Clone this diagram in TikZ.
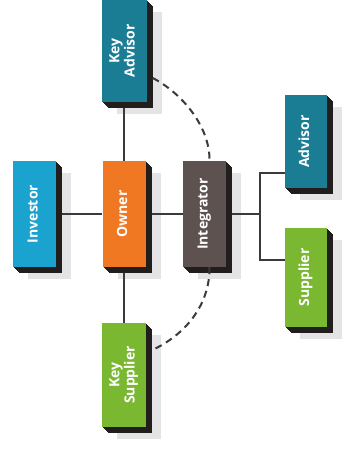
\documentclass[tikz,border=0pt]{standalone}
\usepackage{fontspec}
\newfontfamily\labelfont{Open Sans}
\usetikzlibrary{shadows}

\definecolor{advteal}{RGB}{27,125,148}
\definecolor{invcyan}{RGB}{26,163,207}
\definecolor{ownorange}{RGB}{240,120,35}
\definecolor{intbrown}{RGB}{94,82,80}
\definecolor{supgreen}{RGB}{122,184,50}
\definecolor{sidedark}{RGB}{35,30,30}
\definecolor{shadegray}{RGB}{228,228,231}
\definecolor{linegray}{RGB}{58,58,58}

\newcommand{\vlabel}[1]{\rotatebox{90}{\begin{tabular}{@{}c@{}}#1\end{tabular}}}

\tikzset{
  block/.style={rectangle, inner sep=0pt, text=white,
    font=\labelfont\bfseries\fontsize{14}{15}\selectfont,
    general shadow={shadow xshift=15pt, shadow yshift=-12pt, fill=shadegray},
    general shadow={shadow xshift=6pt, shadow yshift=-6pt, fill=sidedark},
    general shadow={shadow xshift=5pt, shadow yshift=-5pt, fill=sidedark},
    general shadow={shadow xshift=4pt, shadow yshift=-4pt, fill=sidedark},
    general shadow={shadow xshift=3pt, shadow yshift=-3pt, fill=sidedark},
    general shadow={shadow xshift=2pt, shadow yshift=-2pt, fill=sidedark},
    general shadow={shadow xshift=1pt, shadow yshift=-1pt, fill=sidedark}},
  link/.style={draw=linegray, line width=1.8pt},
  tie/.style={draw=linegray, line width=2pt, dash pattern=on 7pt off 5pt}
}

\begin{document}
\begin{tikzpicture}[x=1pt, y=-1pt]
  \useasboundingbox (0,0) rectangle (347,450);

  % partners round the owner
  \node[block, fill=advteal, minimum width=45pt, minimum height=102pt] (ka) at (124,51) {\vlabel{Key\\Advisor}};
  \node[block, fill=invcyan, minimum width=43pt, minimum height=106pt] (inv) at (34.5,214) {\vlabel{Investor}};
  \node[block, fill=ownorange, minimum width=43pt, minimum height=106pt] (own) at (124,214) {\vlabel{Owner}};
  \node[block, fill=intbrown, minimum width=43pt, minimum height=106pt] (int) at (204.5,214) {\vlabel{Integrator}};
  \node[block, fill=advteal, minimum width=42pt, minimum height=93pt] (adv) at (306,141.5) {\vlabel{Advisor}};
  \node[block, fill=supgreen, minimum width=42pt, minimum height=99pt] (sup) at (306,277.5) {\vlabel{Supplier}};
  \node[block, fill=supgreen, minimum width=44pt, minimum height=104pt] (ks) at (124,375) {\vlabel{Key\\Supplier}};

  % solid links
  \draw[link, shorten <=6pt] (inv) -- (own);
  \draw[link, shorten <=6pt] (own) -- (int);
  \draw[link, shorten <=6pt] (ka) -- (own);
  \draw[link, shorten <=6pt] (own) -- (ks);
  \coordinate (fork) at (260,214);
  \coordinate (forkA) at (260,173);
  \coordinate (forkS) at (260,260);
  \draw[link, shorten <=6pt] (int) -- (fork);
  \draw[link] (forkA -| adv.west) -- (forkA) -- (forkS) -- (forkS -| sup.west);

  % dashed ties to the integrator
  \draw[tie] ([xshift=6pt,yshift=-27pt]ka.east) .. controls (180,92) and (210,125) .. ([xshift=5pt]int.north);
  \draw[tie] ([xshift=5pt]int.south) .. controls (210,305) and (185,335) .. ([xshift=6pt,yshift=25pt]ks.east);
\end{tikzpicture}
\end{document}
